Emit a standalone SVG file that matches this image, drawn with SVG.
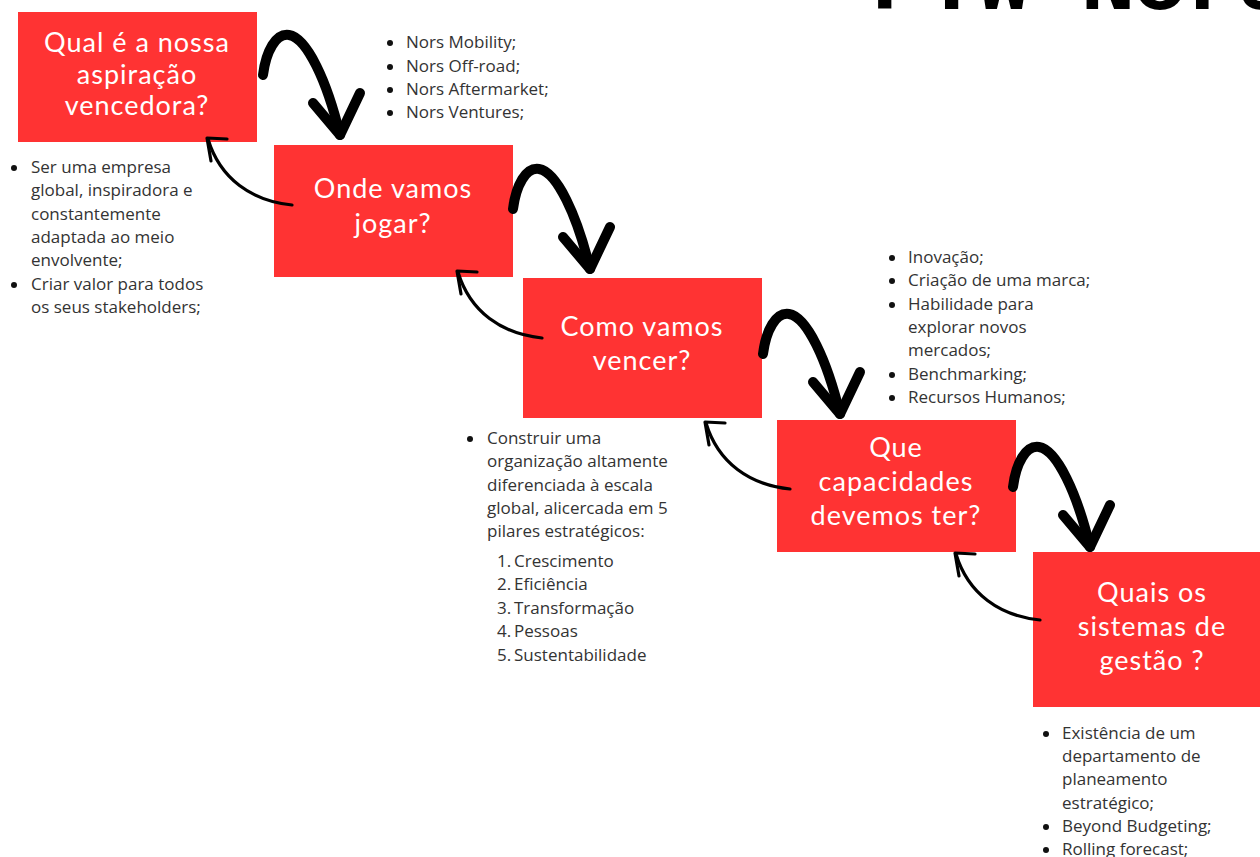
<svg xmlns="http://www.w3.org/2000/svg" width="1260" height="857" viewBox="0 0 1260 857">
<style>
.box{fill:#ff3333}
.bt{font-family:Lato,"Noto Sans",sans-serif;font-size:27px;letter-spacing:1px;fill:#ffffff;text-anchor:middle}
.lt{font-family:"Open Sans","Noto Sans",sans-serif;font-size:17px;fill:#333333}
.dot{fill:#111111}
.big{fill:none;stroke:#000;stroke-width:10;stroke-linecap:round;stroke-linejoin:round}
.thin{fill:none;stroke:#000;stroke-width:3.2;stroke-linecap:round;stroke-linejoin:round}
.title{font-family:"Liberation Mono",monospace;font-weight:bold;font-size:92px;fill:#000}
</style>
<defs>
<g id="down">
<path d="M0,2 C3,-22 13,-40 26,-38 C44,-35 64,8 77,62" class="big"/>
<path d="M50,30 L77,62 L97,20" class="big"/>
</g>
<g id="back">
<path d="M0,0 C-40,-4 -72,-26 -84,-66" class="thin"/>
<path d="M-65,-66 L-85,-67 L-81,-44" class="thin"/>
</g>
</defs>
<text class="title" x="872" y="9" textLength="420" lengthAdjust="spacing">PTW Nors</text>
<g id="node1">
<rect class="box" x="18" y="12" width="239" height="130"/>
<text class="bt" x="137" y="52">Qual é a nossa</text>
<text class="bt" x="137" y="84">aspiração</text>
<text class="bt" x="137" y="115">vencedora?</text>
</g>
<g id="node2">
<rect class="box" x="274" y="145" width="239" height="132"/>
<text class="bt" x="393" y="198">Onde vamos</text>
<text class="bt" x="393" y="233">jogar?</text>
</g>
<g id="node3">
<rect class="box" x="523" y="278" width="239" height="140"/>
<text class="bt" x="642" y="336">Como vamos</text>
<text class="bt" x="642" y="370">vencer?</text>
</g>
<g id="node4">
<rect class="box" x="777" y="420" width="239" height="132"/>
<text class="bt" x="896" y="457">Que</text>
<text class="bt" x="896" y="491">capacidades</text>
<text class="bt" x="896" y="525">devemos ter?</text>
</g>
<g id="node5">
<rect class="box" x="1033" y="552" width="227" height="155"/>
<text class="bt" x="1152" y="602">Quais os</text>
<text class="bt" x="1152" y="636">sistemas de</text>
<text class="bt" x="1152" y="670">gestão ?</text>
</g>
<g id="connectors">
<use href="#down" x="263" y="73"/>
<use href="#down" x="513" y="207"/>
<use href="#down" x="763" y="352"/>
<use href="#down" x="1013" y="485"/>
<use href="#back" x="292" y="205"/>
<use href="#back" x="542" y="338"/>
<use href="#back" x="790" y="489"/>
<use href="#back" x="1040" y="620"/>
</g>
<g id="list1" class="lt">
<circle class="dot" cx="14" cy="168" r="3"/><text x="31" y="173">Ser uma empresa</text>
<text x="31" y="196">global, inspiradora e</text>
<text x="31" y="220">constantemente</text>
<text x="31" y="243">adaptada ao meio</text>
<text x="31" y="266">envolvente;</text>
<circle class="dot" cx="14" cy="285" r="3"/><text x="31" y="290">Criar valor para todos</text>
<text x="31" y="313">os seus stakeholders;</text>
</g>
<g id="list2" class="lt">
<circle class="dot" cx="390" cy="43" r="3"/><text x="406" y="48">Nors Mobility;</text>
<circle class="dot" cx="390" cy="67" r="3"/><text x="406" y="72">Nors Off-road;</text>
<circle class="dot" cx="390" cy="90" r="3"/><text x="406" y="95">Nors Aftermarket;</text>
<circle class="dot" cx="390" cy="113" r="3"/><text x="406" y="118">Nors Ventures;</text>
</g>
<g id="list3" class="lt">
<circle class="dot" cx="470" cy="439" r="3"/><text x="487" y="444">Construir uma</text>
<text x="487" y="467">organização altamente</text>
<text x="487" y="491">diferenciada à escala</text>
<text x="487" y="514">global, alicercada em 5</text>
<text x="487" y="537">pilares estratégicos:</text>
<text x="497" y="567">1.</text><text x="514" y="567">Crescimento</text>
<text x="497" y="590">2.</text><text x="514" y="590">Eficiência</text>
<text x="497" y="614">3.</text><text x="514" y="614">Transformação</text>
<text x="497" y="637">4.</text><text x="514" y="637">Pessoas</text>
<text x="497" y="661">5.</text><text x="514" y="661">Sustentabilidade</text>
</g>
<g id="list4" class="lt">
<circle class="dot" cx="892" cy="258" r="3"/><text x="908" y="263">Inovação;</text>
<circle class="dot" cx="892" cy="281" r="3"/><text x="908" y="286">Criação de uma marca;</text>
<circle class="dot" cx="892" cy="305" r="3"/><text x="908" y="310">Habilidade para</text>
<text x="908" y="333">explorar novos</text>
<text x="908" y="356">mercados;</text>
<circle class="dot" cx="892" cy="375" r="3"/><text x="908" y="380">Benchmarking;</text>
<circle class="dot" cx="892" cy="398" r="3"/><text x="908" y="403">Recursos Humanos;</text>
</g>
<g id="list5" class="lt">
<circle class="dot" cx="1046" cy="734" r="3"/><text x="1062" y="739">Existência de um</text>
<text x="1062" y="762">departamento de</text>
<text x="1062" y="785">planeamento</text>
<text x="1062" y="809">estratégico;</text>
<circle class="dot" cx="1046" cy="827" r="3"/><text x="1062" y="832">Beyond Budgeting;</text>
<circle class="dot" cx="1046" cy="850" r="3"/><text x="1062" y="855">Rolling forecast;</text>
</g>
</svg>
